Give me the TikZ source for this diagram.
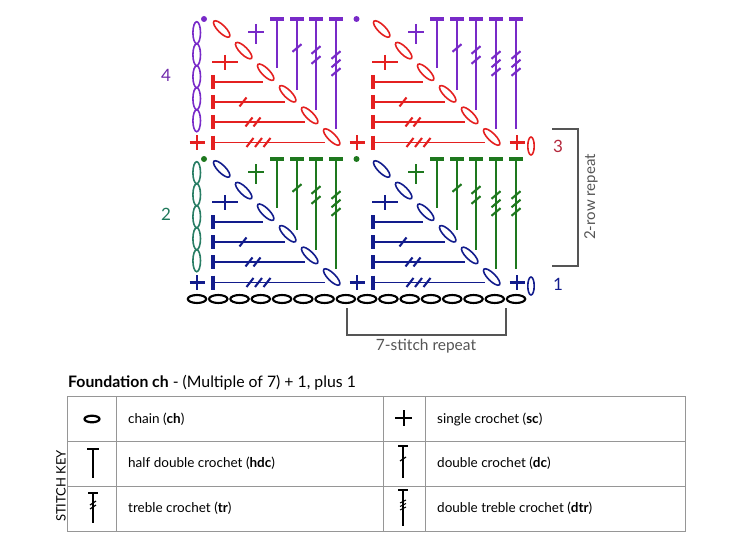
\documentclass[tikz,border=0pt]{standalone}
\usepackage{fontspec}
\setmainfont{Lato}
\definecolor{bluec}{RGB}{18,28,140}
\definecolor{grnc}{RGB}{30,120,30}
\definecolor{redc}{RGB}{228,32,32}
\definecolor{purc}{RGB}{120,42,200}
\definecolor{tealc}{RGB}{40,125,100}
\definecolor{lab3}{RGB}{180,40,60}
\definecolor{lab2}{RGB}{30,120,90}
\definecolor{lab4}{RGB}{110,40,170}
\definecolor{greyc}{RGB}{85,85,85}
\definecolor{tlinec}{RGB}{150,150,150}
\tikzset{
  post/.style={line width=1.7pt},
  tbar/.style={line width=3.2pt},
  hsh/.style={line width=2.1pt},
  scs/.style={line width=2.3pt},
  chs/.style={line width=1.6pt},
  fch/.style={line width=2.1pt},
  brk/.style={greyc,line width=1.6pt},
  tline/.style={tlinec,line width=0.9pt},
  ktext/.style={anchor=west,font=\fontsize{13.5}{15}\selectfont,inner sep=0pt},
  numlab/.style={font=\fontsize{17}{19}\selectfont,inner sep=0pt},
}
\newcommand\VSt[4]{%
  \draw[color=#1,post] (#2,#3) -- (#2,#4);
  \draw[color=#1,tbar] ({#2-7},#3) -- ({#2+7},#3);}
\newcommand\VHash[3]{\draw[color=#1,hsh] ({#2-4.5},{#3+3.8}) -- ({#2+4.5},{#3-3.8});}
\newcommand\HSt[4]{%
  \draw[color=#1,post] (#2,#4) -- (#3,#4);
  \draw[color=#1,tbar] (#2,{#4-7}) -- (#2,{#4+7});}
\newcommand\HHash[3]{\draw[color=#1,hsh] ({#2-3.5},{#3+4.5}) -- ({#2+3.5},{#3-4.5});}
\newcommand\SCm[3]{\draw[color=#1,scs] ({#2-7.5},#3) -- ({#2+7.5},#3) (#2,{#3-7.5}) -- (#2,{#3+7.5});}
\newcommand\DOval[3]{\draw[color=#1,chs,rotate around={-45:(#2,#3)}] (#2,#3) ellipse [x radius=11pt,y radius=3.8pt];}
\begin{document}
\begin{tikzpicture}[x=1pt,y=-1pt]
\useasboundingbox (0,0) rectangle (729,535);
% ---------- chart halves ----------
\foreach \yo/\lc/\uc/\cc in {0/redc/purc/purc, 140/bluec/grnc/tealc} {
\begin{scope}[shift={(0,\yo)}]
  % lower row: sc
  \foreach \x in {197,357,517} {\SCm{\lc}{\x}{142.5}}
  \foreach \r in {0,160} {
    \HSt{\lc}{213+\r}{263+\r}{82}
    \HSt{\lc}{213+\r}{285+\r}{102}
    \HHash{\lc}{243+\r}{102}
    \HSt{\lc}{213+\r}{305+\r}{122}
    \HHash{\lc}{249+\r}{122}\HHash{\lc}{257+\r}{122}
    \HSt{\lc}{213+\r}{325+\r}{142.5}
    \HHash{\lc}{250+\r}{142.5}\HHash{\lc}{258.5+\r}{142.5}\HHash{\lc}{267+\r}{142.5}
    \draw[color=\lc,scs] ({212+\r},62) -- ({238+\r},62) ({225+\r},55) -- ({225+\r},70);
    \foreach \k in {0,...,5} {\DOval{\lc}{221.7+\r+22*\k}{29+21.6*\k}}
    % upper row
    \draw[color=\uc,scs] ({248+\r},31.7) -- ({264+\r},31.7) ({256+\r},24) -- ({256+\r},44);
    \VSt{\uc}{277+\r}{19}{68}
    \VSt{\uc}{297+\r}{19}{90}\VHash{\uc}{297+\r}{48}
    \VSt{\uc}{316+\r}{19}{110}\VHash{\uc}{316+\r}{50}\VHash{\uc}{316+\r}{60}
    \VSt{\uc}{336+\r}{19}{129}\VHash{\uc}{336+\r}{55}\VHash{\uc}{336+\r}{63.5}\VHash{\uc}{336+\r}{72}
  }
  \VSt{\uc}{516}{19}{129}\VHash{\uc}{516}{55}\VHash{\uc}{516}{63.5}\VHash{\uc}{516}{72}
  \fill[color=\uc] (204,19) circle (3pt);
  \fill[color=\uc] (356.5,19) circle (3pt);
  \foreach \k in {0,...,4} {\draw[color=\cc,chs] (196.7,{32.7+22*\k}) ellipse [x radius=3.8pt,y radius=11pt];}
  \draw[color=\lc,chs] (531,146) ellipse [x radius=3.2pt,y radius=9pt];
\end{scope}
}
% foundation chain
\foreach \k in {0,...,15} {\draw[black,fch] ({197+21.27*\k},299) ellipse [x radius=9.2pt,y radius=4pt];}
% row labels
\node[numlab,text=lab4] (l4) at (166,75) {4};
\node[numlab,text=lab2] (l2) at (166,214) {2};
\node[numlab,text=lab3] (l3) at (558,146) {3};
\node[numlab,text=bluec] (l1) at (558,284) {1};
% brackets
\draw[brk] (552,129) -- (578,129) -- (578,266) -- (552,266);
\node[rotate=90,text=greyc,font=\fontsize{15}{17}\selectfont] (rr) at (591,197) {2-row repeat};
\draw[brk] (347,308) -- (347,335) -- (506,335) -- (506,308);
\node[text=greyc,font=\fontsize{15.5}{17}\selectfont] (sr) at (426,346) {7-stitch repeat};
% foundation text
\node[anchor=base west,inner sep=0pt,font=\fontsize{15.8}{17}\selectfont] (fd) at (68,387) {\textbf{Foundation ch} - (Multiple of 7) + 1, plus 1};
% table
\draw[tline] (67,396) rectangle (685,531);
\draw[tline] (67,441) -- (685,441) (67,486) -- (685,486);
\draw[tline] (116,396) -- (116,531) (383,396) -- (383,531) (425,396) -- (425,531);
\node[rotate=90,font=\fontsize{13}{15}\selectfont] (sk) at (61,486) {STITCH KEY};
\node[ktext] (t1) at (128,419) {chain (\textbf{ch})};
\node[ktext] (t2) at (128,463) {half double crochet (\textbf{hdc})};
\node[ktext] (t3) at (128,508) {treble crochet (\textbf{tr})};
\node[ktext] (t4) at (437,419) {single crochet (\textbf{sc})};
\node[ktext] (t5) at (437,463) {double crochet (\textbf{dc})};
\node[ktext] (t6) at (437,508) {double treble crochet (\textbf{dtr})};
% key icons
\draw[black,line width=2.2pt] (92,419) ellipse [x radius=7.5pt,y radius=3.3pt];
\draw[black,line width=2pt] (395,418) -- (412,418) (403.5,410) -- (403.5,426);
\draw[black,line width=1.3pt] (93,449) -- (93,478);
\draw[black,line width=1.8pt] (87,449) -- (99,449);
\draw[black,line width=1.3pt] (93,493) -- (93,523);
\draw[black,line width=1.6pt] (88,493) -- (98,493);
\draw[black,line width=1.2pt] (90,505) -- (96,501) (90,509) -- (96,505);
\draw[black,line width=1.3pt] (403,446) -- (403,478);
\draw[black,line width=1.6pt] (398,446) -- (408,446);
\draw[black,line width=1.2pt] (400,461) -- (406,457);
\draw[black,line width=1.3pt] (403,490) -- (403,526);
\draw[black,line width=1.6pt] (398,490) -- (408,490);
\draw[black,line width=1.1pt] (400,503) -- (406,500) (400,506.5) -- (406,503.5) (400,510) -- (406,507);
\end{tikzpicture}
\end{document}
